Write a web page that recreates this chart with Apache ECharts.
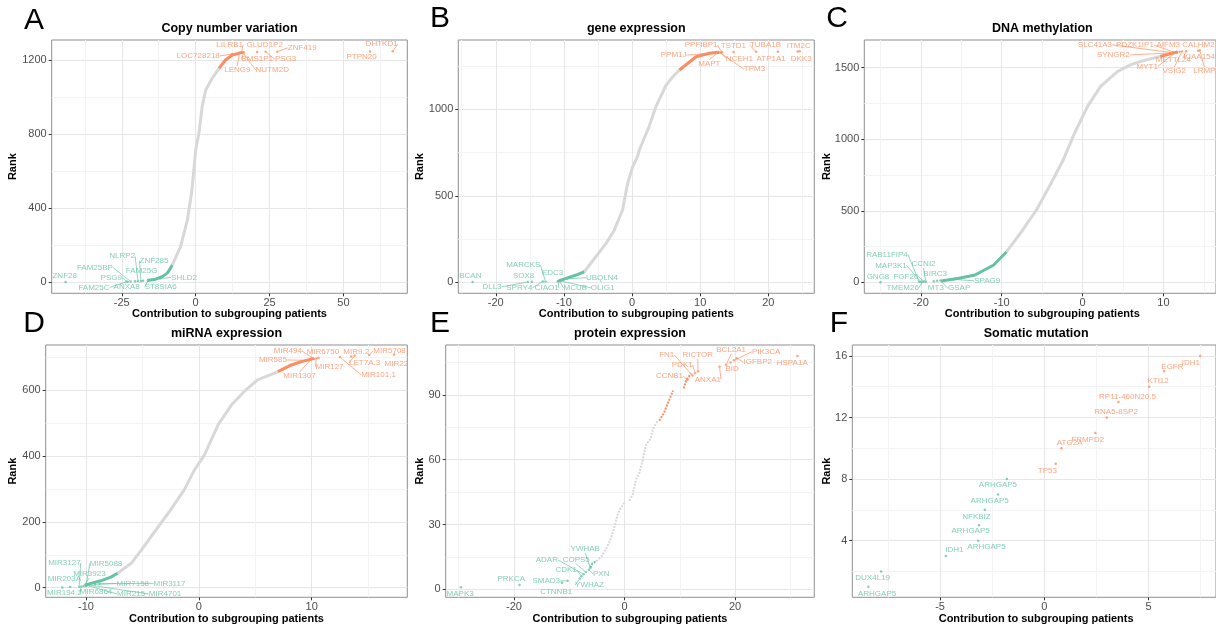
<!DOCTYPE html>
<html><head><meta charset="utf-8">
<script src="https://cdn.jsdelivr.net/npm/echarts@6/dist/echarts.min.js"></script>
<style>html,body{margin:0;padding:0;background:#fff}#c{width:1216px;height:627px}</style>
</head><body><div id="c"></div>
<script>
// ================= DATA (contribution x, rank) =================
// A: Copy number variation
const cnvCurve = [[-7.9,93],[-5.1,192],[-2.8,336],[-1.4,480],[-0.6,606],[0,714],[1.1,804],[2.2,948],[3.4,1038],[5.6,1101],[7.9,1155]];
const cnvUpCurve = [[7.9,1155],[10.1,1200],[12.4,1227],[15.8,1241]];
const cnvDownCurve = [[-16.4,9],[-13.5,16],[-11.3,30],[-9.6,49],[-8.5,76],[-7.9,93]];
const cnvUpGenes = [["LOC728218",12.3,1232],["LENG9",14.8,1239],["LILRB1",15.5,1240],["NUTM2D",16.0,1241],["BMS1P1",16.3,1242],["GLUD1P2",20.8,1243],["PSG3",23.7,1244],["ZNF419",27.6,1245],["PTPN20",59.0,1246],["DHTKD1",66.7,1247]];
const cnvDownGenes = [["ZNF28",-44,1],["FAM25C",-23.5,2],["PSG9",-23,3],["FAM25BP",-22,4],["ANXA8",-20.5,5],["NLRP2",-19.5,6],["ZNF285",-18.5,7],["FAM25G",-17.8,8],["ST8SIA6",-16,12],["SHLD2",-12,20]];
const cnvXTicks = [-25,0,25,50];
const cnvYTicks = [0,400,800,1200];

// B: gene expression
const geneCurve = [[-7.0,61],[-5.3,148],[-3.8,225],[-2.6,302],[-1.4,418],[-0.65,572],[0.1,668],[0.8,726],[1.07,765],[2.5,900],[3.5,1015],[5.0,1140],[6.0,1188],[6.95,1227]];
const geneUpCurve = [[6.95,1227],[8.2,1266],[9.4,1304],[11.35,1324],[12.8,1330]];
const geneDownCurve = [[-10.7,9],[-9.7,23],[-8.2,42],[-7.0,61]];
const geneUpGenes = [["PPM1J",12.2,1326],["MAPT",12.6,1327],["TPM3",12.9,1328],["NCEH1",13.0,1329],["PPFIBP1",13.2,1330],["TSTD1",14.9,1331],["TUBA1B",18.2,1332],["ATP1A1",21.4,1333],["ITM2C",24.3,1334],["DKK3",24.6,1335]];
const geneDownGenes = [["BCAN",-23.4,1],["DLL3",-15.3,2],["SOX8",-14.7,3],["SPRY4",-13.1,4],["MARCKS",-12.7,5],["EDC3",-10.9,6],["CIAO1",-10.8,7],["MCUB",-10.7,8],["OLIG1",-10.6,9],["UBQLN4",-9.5,20]];
const geneXTicks = [-20,-10,0,10,20];
const geneYTicks = [0,500,1000];

// C: DNA methylation
const methCurve = [[-9.4,214],[-7.55,354],[-5.7,506],[-3.9,692],[-2.4,855],[-1.0,1042],[0.6,1228],[2.2,1368],[4.3,1473],[5.9,1520],[7.1,1543],[9.6,1578]];
const methUpCurve = [[9.6,1578],[11.0,1600],[11.8,1610]];
const methDownCurve = [[-17.5,9],[-15.3,28],[-13.3,51],[-11.0,121],[-9.4,214]];
const methUpGenes = [["SYNGR2",11.0,1603],["SLC41A3",11.2,1605],["PDZK1IP1",11.4,1607],["MYT1",11.5,1608],["AIFM3",11.6,1609],["METTL24",12.0,1611],["VSIG2",12.3,1613],["KIAA1549",12.8,1615],["CALHM2",14.3,1618],["LRMP",14.5,1620]];
const methDownGenes = [["GNG8",-25.0,1],["RAB11FIP4",-20.2,2],["MAP3K1",-20.0,3],["TMEM26",-19.8,4],["FGF20",-19.6,5],["CCNI2",-19.4,6],["BIRC3",-18.4,8],["MT3",-18.0,10],["GSAP",-17.6,12],["SPAG9",-16.0,20]];
const methXTicks = [-20,-10,0,10];
const methYTicks = [0,500,1000,1500];

// D: miRNA expression
const mirCurve = [[-7.2,44],[-6.0,74],[-5.1,114],[-3.6,185],[-2.5,236],[-1.3,297],[-0.4,357],[0.5,403],[1.7,494],[2.9,555],[4.0,595],[5.2,631],[6.7,651],[7.0,656]];
const mirUpCurve = [[7.0,656],[8.2,676],[9.1,686],[10.2,696]];
const mirDownCurve = [[-10.1,8],[-8.7,21],[-7.8,32],[-7.2,44]];
const mirUpGenes = [["MIR585",9.6,690],["MIR1307",9.9,692],["MIR494",10.2,694],["MIR127",10.4,696],["MIR6750",10.6,698],["MIR101.1",12.5,700],["MIR9.2",13.5,702],["LET7A.3",13.8,704],["MIR5708",15.1,706],["MIR22",17.3,708]];
const mirDownGenes = [["MIR194.2",-12.1,1],["MIR203A",-11.4,2],["MIR3127",-10.6,3],["MIR6864",-10.4,4],["MIR3923",-10.2,5],["MIR5088",-10.0,6],["MIR215",-9.9,7],["MIR4701",-9.7,8],["MIR7158",-9.2,10],["MIR3117",-8.8,12]];
const mirXTicks = [-10,0,10];
const mirYTicks = [0,200,400,600];

// E: protein expression
const protCurveLow = [[-5.1,13],[-4.2,15],[-3.3,19],[-2.7,22],[-1.8,29],[-1.2,35],[-0.6,38],[0,40]];
const protCurveHigh = [[0.9,41],[1.5,44],[2.1,51],[2.7,54],[3.3,60],[3.9,67],[4.8,70],[5.1,74],[6.0,78]];
const protUpCurveLow = [[6.3,78],[7.2,82],[7.8,86],[8.8,92]];
const protUpCurveHigh = [[10.7,93],[11.2,97],[12.1,100]];
const protDownCurve = [[-6.2,10],[-6.0,11],[-5.8,12],[-5.1,13]];
const protUpGenes = [["CCNB1",11.4,97],["FN1",12.3,99],["PDK1",12.8,100],["RICTOR",13.3,101],["ANXA1",17.2,103],["BCL2A1",18.4,104],["BID",19.2,105],["PIK3CA",19.8,106],["IGFBP2",20.3,107],["HSPA1A",31.3,108]];
const protDownGenes = [["MAPK3",-29.6,1],["PRKCA",-19.0,2],["CTNNB1",-11.3,3],["SMAD3",-10.3,4],["YWHAZ",-8.1,5],["CDK1",-7.8,6],["ADAR",-7.4,7],["COPS5",-7.0,8],["PXN",-6.4,9],["YWHAB",-6.2,10]];
const protXTicks = [-20,0,20];
const protYTicks = [0,30,60,90];

// F: Somatic mutation
const mutUpGenes = [["TP53",0.55,9],["ATG2A",0.82,10],["FRMPD2",2.45,11],["RNA5-8SP2",3.0,12],["RP11-460N20.5",3.56,13],["KTI12",5.03,14],["EGFR",5.75,15],["IDH1",7.48,16]];
const mutDownGenes = [["ARHGAP5",-8.44,1],["DUX4L19",-7.83,2],["IDH1",-4.72,3],["ARHGAP5",-3.17,4],["ARHGAP5",-3.13,5],["NFKBIZ",-2.85,6],["ARHGAP5",-2.22,7],["ARHGAP5",-1.79,8]];
const mutXTicks = [-5,0,5];
const mutYTicks = [4,8,12,16];

// ================= LAYOUT / STYLE =================
const ORANGE = '#FC8D62', GREEN = '#66C2A5', GRAY = '#D8D8D8';
const FONT = '"Liberation Sans", Arial, sans-serif';

const cnvUpOff = [[-33.8,1.9],[-2.1,17.2],[-11.8,-7.6],[29.3,17.6],[13.4,7],[7.5,-6.8],[19.9,7.3],[25,-3.8],[-8.4,5.8],[-11.2,-7]];
const cnvDownOff = [[-0.9,-5.9],[-32.2,5.7],[-16.4,-3.7],[-35.7,-13.9],[-8.4,5.6],[-15.8,-24.8],[13,-19.7],[-1.4,-9.9],[12.3,7.2],[23.8,-0.9]];
const geneUpOff = [[-41.5,2.2],[-8.5,10.9],[34.5,16.5],[18.8,6.1],[-20.9,-7],[-0.2,-6.1],[9.4,-6.7],[-6.7,7.1],[1.1,-6.2],[1.5,7.1]];
const geneDownOff = [[-2.3,-6.1],[-35.8,4.9],[-8.3,-6],[-23.5,6.1],[-22.2,-16.4],[-5.2,-8.4],[-11.8,6.8],[16.2,7],[42.8,7.1],[34.7,-1.1]];
const methUpOff = [[-58.2,1.9],[-78.2,-7.8],[-39.8,-7.4],[-28.3,14.1],[-8.1,-6.9],[-6.3,8.2],[-7.8,19.5],[15.4,5.8],[0.2,-5.6],[4.5,20.4]];
const methDownOff = [[-2.5,-5.5],[-32.3,-27.7],[-29.9,-16.2],[-19.9,6],[-18.2,-4.9],[-2.2,-17.4],[1.3,-6.9],[-1.2,6.8],[18.8,7.7],[34,1.3]];
const mirUpOff = [[-34.3,-0.4],[-11.1,16.6],[-26.1,-8.1],[13.3,8.3],[4.4,-6],[38.6,17.9],[5,-5.1],[10,7.3],[20.3,-4.4],[2.2,8.9]];
const mirDownOff = [[2.1,5.9],[-5.8,-8],[-14.8,-23.7],[14.6,5.6],[5.7,-12.4],[20.1,-22.4],[44,8.6],[75.7,8.9],[37.8,-1],[69.9,-0.4]];
const protUpOff = [[-18,-3.8],[-25.7,-20.5],[-13,-8.3],[-0.2,-16.1],[-11.7,12.5],[5,-14.7],[1.6,6.5],[32.3,-8.6],[21.1,4.1],[-5.2,6.3]];
const protDownOff = [[-0.8,6.2],[-8.3,-6],[-5.9,9.2],[-21.4,0.3],[9.8,6.5],[-15.2,-6.3],[-36.8,-14.2],[-9.6,-12],[12.1,4.1],[-5,-18.7]];
const mutUpOff = [[-8.3,6.7],[8.3,-5],[-7.6,7],[9.3,-5.4],[9,-5.6],[9,-5.7],[8.3,-5],[-9.3,6.7]];
const mutDownOff = [[8.7,6.6],[-8.4,6],[8.4,-6],[8.3,6.3],[-8.4,6],[-8.4,6.7],[-8.3,6.7],[-9,6]];

const panels = [
  {letter:'A', lx:34, ly:21, title:'Copy number variation', row:0,
   grid:{left:51.7, top:40, width:355.6, height:253.3},
   x:{min:-48.7, max:71.6, major:cnvXTicks, minor:[-37.5,-12.5,12.5,37.5,62.5]},
   y:{min:-60, max:1308, major:cnvYTicks, minor:[200,600,1000]},
   gray:[cnvCurve], up:[cnvUpCurve], down:[cnvDownCurve],
   upGenes:cnvUpGenes, downGenes:cnvDownGenes, upOff:cnvUpOff, downOff:cnvDownOff, dotted:false, lines:true},
  {letter:'B', lx:440, ly:19, title:'gene expression', row:0,
   grid:{left:458.3, top:40, width:356, height:253.3},
   x:{min:-25.5, max:26.75, major:geneXTicks, minor:[-25,-15,-5,5,15,25]},
   y:{min:-63.6, max:1400.6, major:geneYTicks, minor:[250,750,1250]},
   gray:[geneCurve], up:[geneUpCurve], down:[geneDownCurve],
   upGenes:geneUpGenes, downGenes:geneDownGenes, upOff:geneUpOff, downOff:geneDownOff, dotted:false, lines:true},
  {letter:'C', lx:837, ly:19, title:'DNA methylation', row:0,
   grid:{left:864.3, top:40, width:356, height:253.3},
   x:{min:-27.0, max:16.5, major:methXTicks, minor:[-25,-15,-5,5,15]},
   y:{min:-77, max:1693.7, major:methYTicks, minor:[250,750,1250]},
   gray:[methCurve], up:[methUpCurve], down:[methDownCurve],
   upGenes:methUpGenes, downGenes:methDownGenes, upOff:methUpOff, downOff:methDownOff, dotted:false, lines:true},
  {letter:'D', lx:34, ly:324, title:'miRNA expression', row:1,
   grid:{left:45.7, top:345, width:361.6, height:252.3},
   x:{min:-13.57, max:18.47, major:mirXTicks, minor:[-5,5,15]},
   y:{min:-29.1, max:736.6, major:mirYTicks, minor:[100,300,500,700]},
   gray:[mirCurve], up:[mirUpCurve], down:[mirDownCurve],
   upGenes:mirUpGenes, downGenes:mirDownGenes, upOff:mirUpOff, downOff:mirDownOff, dotted:false, lines:true},
  {letter:'E', lx:440, ly:324, title:'protein expression', row:1,
   grid:{left:445.7, top:345, width:368.6, height:252.3},
   x:{min:-32.36, max:34.35, major:protXTicks, minor:[-30,-10,10,30]},
   y:{min:-3.7, max:113.1, major:protYTicks, minor:[15,45,75,105]},
   gray:[protCurveLow, protCurveHigh], up:[protUpCurveLow, protUpCurveHigh], down:[protDownCurve],
   upGenes:protUpGenes, downGenes:protDownGenes, upOff:protUpOff, downOff:protDownOff, dotted:true, lines:true},
  {letter:'F', lx:839, ly:324, title:'Somatic mutation', row:1,
   grid:{left:852.3, top:345, width:367.7, height:252.3},
   x:{min:-9.21, max:8.24, major:mutXTicks, minor:[-7.5,-2.5,2.5,7.5]},
   y:{min:0.32, max:16.71, major:mutYTicks, minor:[2,6,10,14]},
   gray:[], up:[], down:[],
   upGenes:mutUpGenes, downGenes:mutDownGenes, upOff:mutUpOff, downOff:mutDownOff, dotted:false, lines:false}
];

function mainAxis(i, pos, a) {
  return {type:'value', gridIndex:i, position:pos, min:a.min, max:a.max,
    axisLine:{show:false, onZero:false},
    axisTick:{show:true, length:3, lineStyle:{color:'#333', width:1}, customValues:a.major},
    axisLabel:{show:true, customValues:a.major, color:'#4d4d4d', fontSize:11, fontFamily:FONT,
      margin:(pos==='bottom'?4:5), formatter:function(v){ return String(v); }},
    splitLine:{show:true, lineStyle:{color:'#e6e6e6', width:1}},
    minorSplitLine:{show:false}};
}
function minorAxis(i, pos, a) {
  return {type:'value', gridIndex:i, position:pos, min:a.min, max:a.max,
    axisLine:{show:false, onZero:false},
    axisTick:{show:false, customValues:a.minor},
    axisLabel:{show:false},
    splitLine:{show:true, lineStyle:{color:'#f3f3f3', width:1}}};
}
function txt(x, y, text, font, rot) {
  return {type:'text', x:x, y:y, rotation:rot||0, silent:true, z:100,
    style:{text:text, font:font, fill:'#000', textAlign:'center', textVerticalAlign:'middle', align:'center', verticalAlign:'middle'}};
}

const grids=[], xAxes=[], yAxes=[], series=[], graphics=[];
panels.forEach(function(p, i){
  grids.push({left:p.grid.left, top:p.grid.top, width:p.grid.width, height:p.grid.height,
    show:true, borderColor:'#8f8f8f', borderWidth:1, backgroundColor:'rgba(0,0,0,0)'});
  xAxes.push(mainAxis(i,'bottom',p.x)); xAxes.push(minorAxis(i,'top',p.x));
  yAxes.push(mainAxis(i,'left',p.y)); yAxes.push(minorAxis(i,'right',p.y));
  const xi = 2*i, yi = 2*i;
  function addLines(segs, color) {
    segs.forEach(function(seg){
      series.push({type:'line', xAxisIndex:xi, yAxisIndex:yi, data:seg, showSymbol:false, symbol:'none',
        lineStyle:{color:color, width:(p.dotted?2:3), type:(p.dotted?[2,1.2]:'solid')}, z:2, silent:true, animation:false});
    });
  }
  addLines(p.gray, GRAY); addLines(p.up, ORANGE); addLines(p.down, GREEN);
  function addGenes(genes, offs, color) {
    series.push({type:'scatter', xAxisIndex:xi, yAxisIndex:yi, symbolSize:2.5, silent:true, animation:false, z:5,
      itemStyle:{color:color},
      data: genes.map(function(g, k){
        const d = Math.hypot(offs[k][0], offs[k][1]);
        return {name:g[0], value:[g[1], g[2]], labelLine:{show: p.lines && d > 11}};
      }),
      label:{show:true, position:'inside', formatter:'{b}', color:color, fontSize:8, fontFamily:FONT},
      labelLayout:function(params){ const o = offs[params.dataIndex]; return {dx:o[0], dy:o[1]}; },
      labelLine:{show:p.lines, lineStyle:{color:color, width:0.7}},
      emphasis:{disabled:true}});
  }
  addGenes(p.upGenes, p.upOff, ORANGE); addGenes(p.downGenes, p.downOff, GREEN);
  const cx = p.grid.left + p.grid.width/2, cy = p.grid.top + p.grid.height/2;
  const titleY = p.row===0 ? 29 : 334, xtY = p.row===0 ? 314.3 : 619;
  const rankX = p.grid.left < 100 ? 13 : (p.grid.left < 600 ? 420 : 826.5);
  graphics.push(txt(p.lx, p.ly, p.letter, 'normal 30px ' + FONT));
  graphics.push(txt(cx, titleY, p.title, 'bold 12.5px ' + FONT));
  graphics.push(txt(cx, xtY, 'Contribution to subgrouping patients', 'bold 11px ' + FONT));
  graphics.push(txt(rankX, cy, 'Rank', 'bold 11px ' + FONT, Math.PI/2));
});

const chart = echarts.init(document.getElementById('c'), null, {renderer:'canvas', width:1216, height:627});
chart.setOption({animation:false, backgroundColor:'#fff', grid:grids, xAxis:xAxes, yAxis:yAxes, series:series, graphic:graphics});
</script></body></html>
